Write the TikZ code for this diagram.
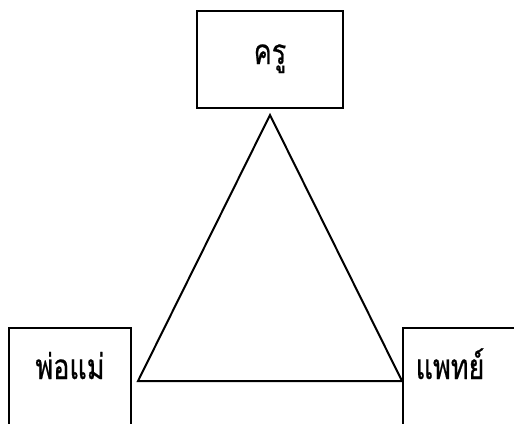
\documentclass[tikz,border=0pt]{standalone}
\usepackage{fontspec}
\newfontfamily\thaifont[Script=Thai,FakeStretch=0.77,FakeBold=0.6]{Loma}
\begin{document}
\begin{tikzpicture}[x=1pt,y=-1pt,
  box/.style={draw,line width=2.2pt,inner sep=0pt},
  lbl/.style={font=\thaifont\fontsize{35}{40}\selectfont,inner sep=0pt,anchor=base},
  tri/.style={line width=2pt,line join=miter}]
\useasboundingbox (0,0) rectangle (514,423);
\clip (0,0) rectangle (514,423);
% boxes
\node[box,minimum width=146pt,minimum height=97pt] (top) at (270,59.5) {};
\node[box,minimum width=122pt,minimum height=122pt] (left) at (70,389) {};
\node[box,minimum width=130pt,minimum height=122pt] (right) at (468,389) {};
% labels
\node[lbl] (ttop) at (270,64) {ครู};
\node[lbl] (tleft) at (70,379) {พ่อแม่};
\node[lbl] (tright) at (450,379) {แพทย์};
% triangle
\coordinate (apex) at (270,115);
\coordinate (bl) at (138,381);
\coordinate (br) at (402,381);
\draw[tri] (apex) -- (bl) -- (br) -- cycle;
\end{tikzpicture}
\end{document}
